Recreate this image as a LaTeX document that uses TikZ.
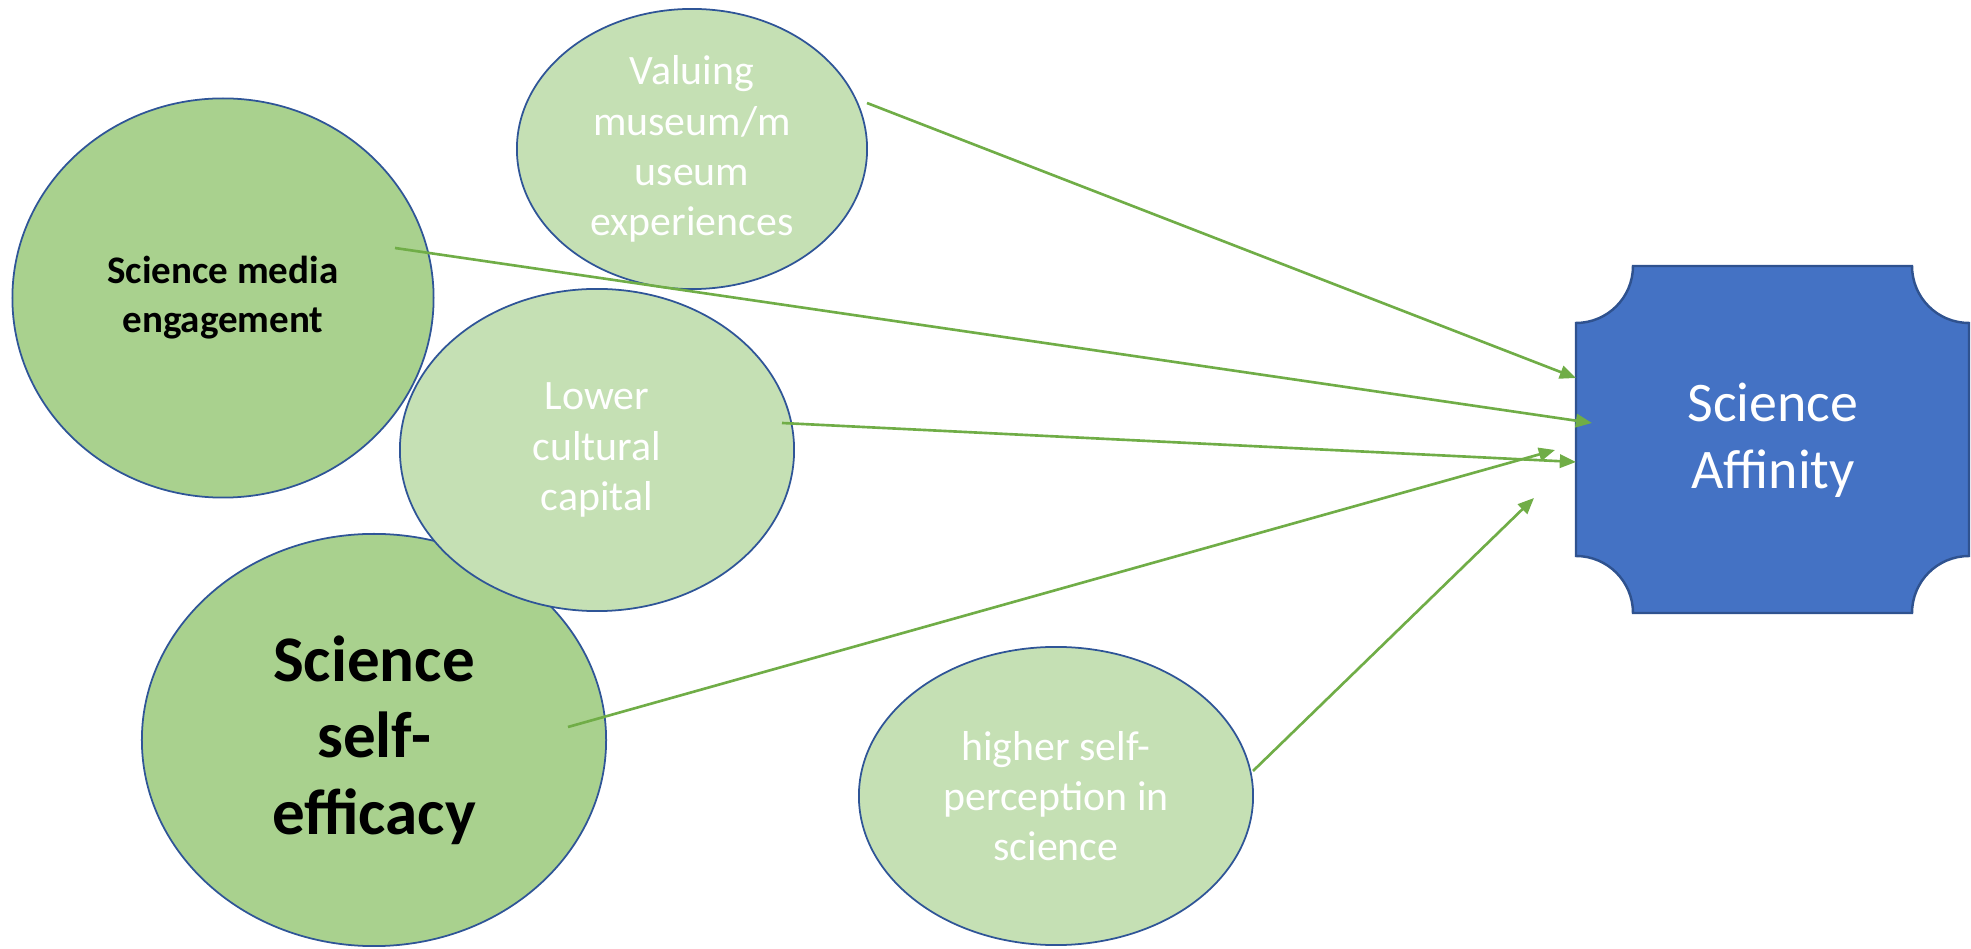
\documentclass[tikz,border=0pt]{standalone}
\usepackage{fontspec}
\setmainfont{Carlito}
\usetikzlibrary{shapes.geometric, arrows.meta}

\definecolor{darkfill}{HTML}{A9D18E}
\definecolor{lightfill}{HTML}{C5E0B4}
\definecolor{rimblue}{HTML}{2F5597}
\definecolor{boxblue}{HTML}{4472C4}
\definecolor{boxrim}{HTML}{2F528F}
\definecolor{linkgreen}{HTML}{70AD47}

\begin{document}
\begin{tikzpicture}[x=0.01cm, y=-0.01cm,
        bubble/.style={ellipse, draw=rimblue, line width=0.5pt, inner sep=0pt, align=center},
        darkbubble/.style={bubble, fill=darkfill, text=black, font=\bfseries},
        lightbubble/.style={bubble, fill=lightfill, text=white, font=\fontsize{11.9pt}{14.3pt}\selectfont},
        link/.style={draw=linkgreen, line width=0.75pt, -{Triangle[length=4.6pt, width=3.8pt]}}]
        \useasboundingbox (0, 0) rectangle (1971, 949);

        % predictors
        \node[darkbubble, minimum width=4.21cm, minimum height=3.99cm, font=\bfseries\fontsize{11.1pt}{13.9pt}\selectfont] (media) at (223, 298) {Science media\\engagement};
        \node[lightbubble, minimum width=3.50cm, minimum height=2.80cm] (valuing) at (692, 149) {Valuing\\museum/m\\useum\\experiences};
        \node[darkbubble, minimum width=4.64cm, minimum height=4.12cm, font=\bfseries\fontsize{18.5pt}{21.8pt}\selectfont] (efficacy) at (374, 740) {Science\\self-\\efficacy};
        \node[lightbubble, minimum width=3.94cm, minimum height=3.22cm] (capital) at (597, 450) {Lower\\cultural\\capital};
        \node[lightbubble, minimum width=3.94cm, minimum height=2.98cm] (perception) at (1056, 796) {higher self-\\perception in\\science};

        % outcome box with scooped corners
        \filldraw[fill=boxblue, draw=boxrim, line width=0.7pt]
            (1633, 266) -- (1912, 266) .. controls (1912, 297.5) and (1937.5, 323) .. (1969, 323)
            -- (1969, 556) .. controls (1937.5, 556) and (1912, 581.5) .. (1912, 613)
            -- (1633, 613) .. controls (1633, 581.5) and (1607.5, 556) .. (1576, 556)
            -- (1576, 323) .. controls (1607.5, 323) and (1633, 297.5) .. (1633, 266) -- cycle;
        \node[text=white, align=center, font=\fontsize{15.9pt}{19.1pt}\selectfont] (affinity) at (1773, 440) {Science\\Affinity};

        % arrow ends
        \coordinate (out1) at (867, 103);  \coordinate (in1) at (1576, 378);
        \coordinate (out2) at (395, 248);  \coordinate (in2) at (1592, 423);
        \coordinate (out3) at (782, 423);  \coordinate (in3) at (1576, 462);
        \coordinate (out4) at (568, 727);  \coordinate (in4) at (1555, 450);
        \coordinate (out5) at (1253, 771); \coordinate (in5) at (1534, 498);

        \foreach \i in {1,...,5}
            \draw[link] (out\i) -- (in\i);
    \end{tikzpicture}
\end{document}
